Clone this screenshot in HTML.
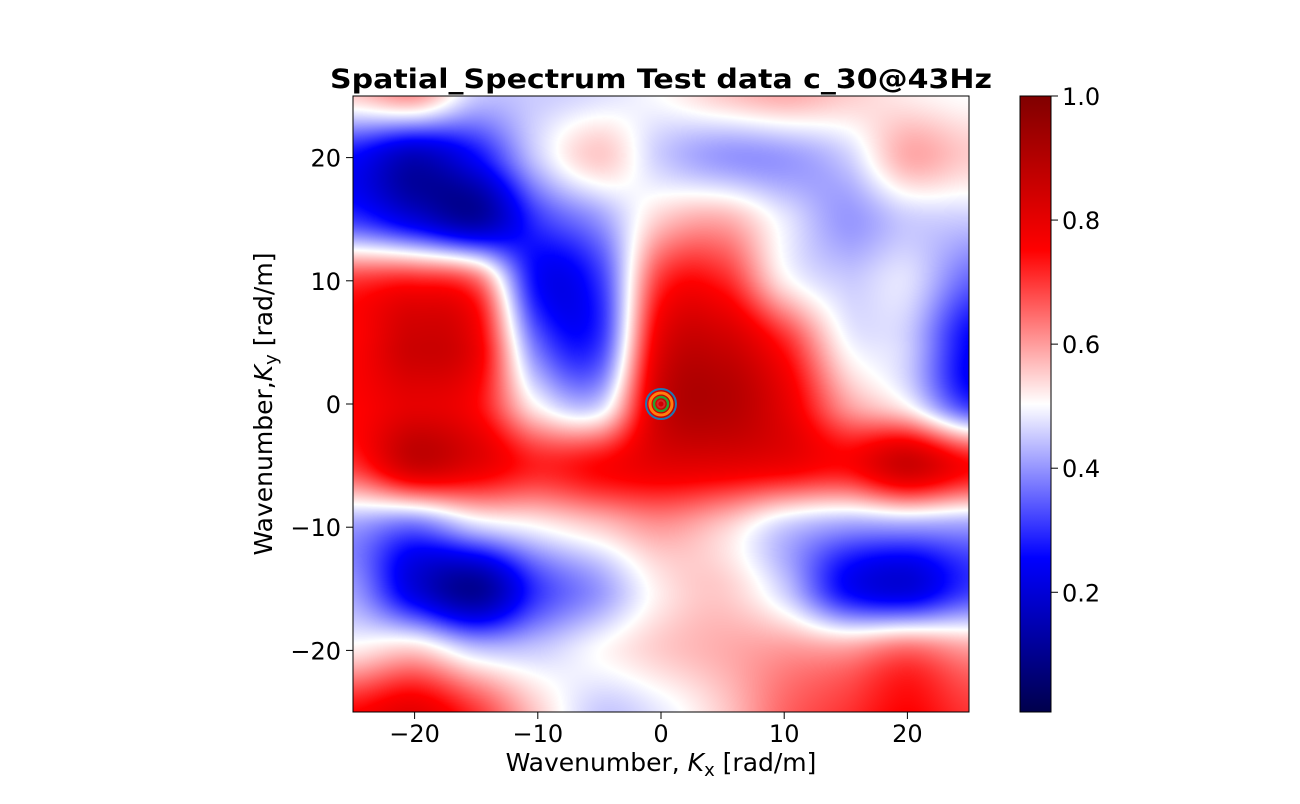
<!DOCTYPE html>
<html><head><meta charset="utf-8"><style>
body{margin:0;background:#fff;width:1300px;height:800px;overflow:hidden;font-family:"DejaVu Sans","Liberation Sans",sans-serif}
svg text{font-family:"DejaVu Sans","Liberation Sans",sans-serif}
</style></head><body>
<svg id="chart" width="1300" height="800">
<text x="661" y="88" text-anchor="middle" font-size="27" font-weight="bold" textLength="662" lengthAdjust="spacingAndGlyphs">Spatial_Spectrum Test data c_30@43Hz</text>
<foreignObject x="353" y="96" width="616" height="616"><canvas id="hm" width="616" height="616" xmlns="http://www.w3.org/1999/xhtml" style="display:block"></canvas></foreignObject>
<g id="marks"></g>
<rect x="353" y="96" width="616" height="616" fill="none" stroke="#000" stroke-width="1"/>
<g id="xticks"></g>
<g id="yticks"></g>
<text x="661" y="771" text-anchor="middle" font-size="25">Wavenumber, <tspan font-style="italic">K</tspan><tspan font-size="18" dy="5">x</tspan><tspan dy="-5"> [rad/m]</tspan></text>
<text transform="translate(272,404) rotate(-90)" text-anchor="middle" font-size="25">Wavenumber,<tspan font-style="italic">K</tspan><tspan font-size="18" dy="5">y</tspan><tspan dy="-5"> [rad/m]</tspan></text>
<defs><linearGradient id="cbg" x1="0" y1="1" x2="0" y2="0">
<stop offset="0" stop-color="#00004c"/><stop offset="0.25" stop-color="#0000ff"/><stop offset="0.5" stop-color="#ffffff"/><stop offset="0.75" stop-color="#ff0000"/><stop offset="1" stop-color="#800000"/></linearGradient></defs>
<rect x="1020" y="96" width="31" height="616" fill="url(#cbg)" stroke="#000" stroke-width="1"/>
<g id="cticks"></g>
</svg>
<script>
const kxValues=[-25,-20,-15,-10,-5,0,5,10,15,20,25];
const kyValues=[25,20,15,10,5,0,-5,-10,-15,-20,-25];
const xTickLabels=[-20,-10,0,10,20];
const yTickLabels=[20,10,0,-10,-20];
const cbTickLabels=[0.2,0.4,0.6,0.8,1.0];
const peak=[0,0];
const row0=[0.55,0.6,0.45,0.45,0.47,0.5,0.55,0.58,0.55,0.52,0.5];
const row1=[0.25,0.15,0.25,0.45,0.55,0.45,0.4,0.4,0.45,0.58,0.55];
const row2=[0.3,0.2,0.12,0.3,0.4,0.55,0.58,0.48,0.4,0.45,0.45];
const row3=[0.7,0.72,0.65,0.25,0.3,0.7,0.72,0.52,0.45,0.47,0.35];
const row4=[0.75,0.85,0.78,0.35,0.3,0.8,0.85,0.72,0.5,0.45,0.25];
const row5=[0.75,0.8,0.75,0.5,0.45,0.85,0.9,0.8,0.6,0.5,0.3];
const row6=[0.7,0.85,0.8,0.72,0.75,0.8,0.8,0.78,0.75,0.85,0.75];
const row7=[0.4,0.35,0.45,0.5,0.55,0.6,0.55,0.45,0.4,0.4,0.4];
const row8=[0.4,0.2,0.1,0.3,0.4,0.52,0.55,0.45,0.25,0.2,0.3];
const row9=[0.52,0.55,0.45,0.45,0.5,0.55,0.58,0.6,0.6,0.65,0.6];
const row10=[0.75,0.8,0.7,0.55,0.45,0.48,0.55,0.65,0.7,0.75,0.7];
const grid=[row0,row1,row2,row3,row4,row5,row6,row7,row8,row9,row10];
const cbMin=0.007,cbMax=1.0;
const L=353,T=96,W=616,H=616;
const xs=k=>L+(k+25)/50*W, ys=k=>T+(25-k)/50*H;
const cy=v=>T+H-(v-cbMin)/(cbMax-cbMin)*H;
const NS="http://www.w3.org/2000/svg";
function mk(tag,at,par){const e=document.createElementNS(NS,tag);for(const k in at)e.setAttribute(k,at[k]);par.appendChild(e);return e;}
function cmap(v){const s=[[0,0,0,76],[0.25,0,0,255],[0.5,255,255,255],[0.75,255,0,0],[1,128,0,0]];v=Math.max(0,Math.min(1,v));
for(let i=0;i<4;i++){if(v<=s[i+1][0]){const t=(v-s[i][0])/(s[i+1][0]-s[i][0]);return [0,1,2].map(j=>s[i][j+1]+(s[i+1][j+1]-s[i][j+1])*t);}}return [128,0,0];}
function cr(p0,p1,p2,p3,t){return 0.5*(2*p1+(-p0+p2)*t+(2*p0-5*p1+4*p2-p3)*t*t+(-p0+3*p1-3*p2+p3)*t*t*t);}
function g(r,c){r=Math.max(0,Math.min(grid.length-1,r));c=Math.max(0,Math.min(kxValues.length-1,c));return grid[r][c];}
function sample(fr,fc){const r=Math.floor(fr),c=Math.floor(fc),tr=fr-r,tc=fc-c;const col=[];
for(let i=-1;i<3;i++)col.push(cr(g(r+i,c-1),g(r+i,c),g(r+i,c+1),g(r+i,c+2),tc));return cr(col[0],col[1],col[2],col[3],tr);}
const cv=document.getElementById('hm'),ctx=cv.getContext('2d'),img=ctx.createImageData(W,H);
const nR=grid.length-1,nC=kxValues.length-1;
for(let py=0;py<H;py++)for(let px=0;px<W;px++){
 const ky=25-(py+0.5)/H*50,kx=-25+(px+0.5)/W*50;
 const fr=(kyValues[0]-ky)/(kyValues[0]-kyValues[nR])*nR, fc=(kx-kxValues[0])/(kxValues[nC]-kxValues[0])*nC;
 const c=cmap(sample(fr,fc));const o=(py*W+px)*4;img.data[o]=c[0];img.data[o+1]=c[1];img.data[o+2]=c[2];img.data[o+3]=255;}
ctx.putImageData(img,0,0);
const m=document.getElementById('marks');
[[15,'#1f77b4',2],[11,'#ff7f0e',3],[7,'#2ca02c',2.5],[3.5,'#d62728',2]].forEach(a=>{
 const e=mk('circle',{cx:xs(peak[0]),cy:ys(peak[1]),r:a[0],fill:'none',stroke:a[1],'stroke-width':a[2]},m);
 
 });
const xt=document.getElementById('xticks');
xTickLabels.forEach(v=>{mk('line',{x1:xs(v),x2:xs(v),y1:712,y2:719,stroke:'#000'},xt);
 const t=mk('text',{x:xs(v),y:742,'text-anchor':'middle','font-size':24},xt);t.textContent=v<0?'\u2212'+(-v):v;
 
 });
const yt=document.getElementById('yticks');
yTickLabels.forEach(v=>{mk('line',{x1:346,x2:353,y1:ys(v),y2:ys(v),stroke:'#000'},yt);
 const t=mk('text',{x:341,y:ys(v)+9,'text-anchor':'end','font-size':24},yt);t.textContent=v<0?'\u2212'+(-v):v;
 
 });
const ct=document.getElementById('cticks');
cbTickLabels.forEach(v=>{mk('line',{x1:1051,x2:1058,y1:cy(v),y2:cy(v),stroke:'#000'},ct);
 const t=mk('text',{x:1062,y:cy(v)+9,'font-size':24},ct);t.textContent=v.toFixed(1);
 
 });
</script>
</body></html>
